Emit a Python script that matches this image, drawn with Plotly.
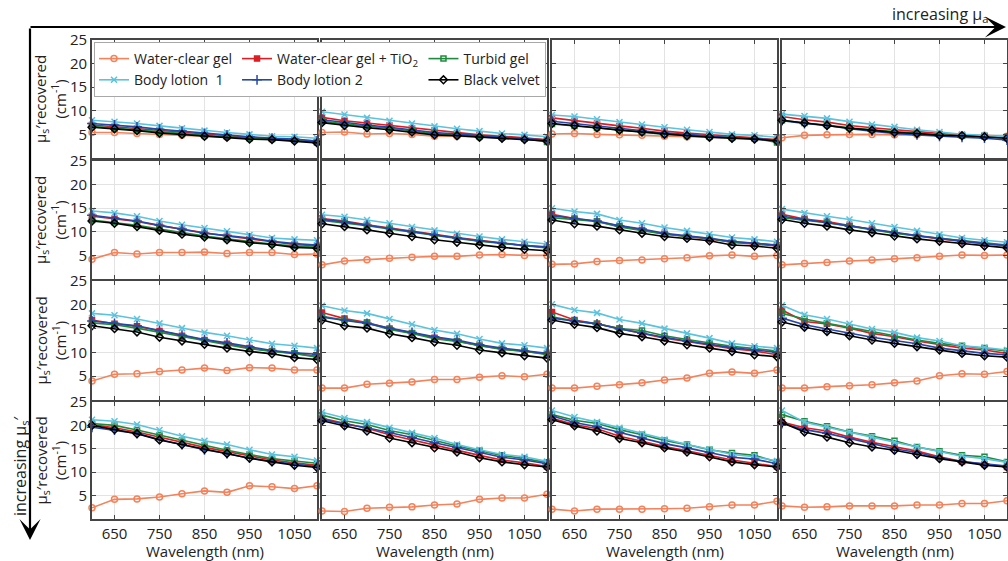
import plotly.graph_objects as go

# ---------------- data ----------------
wavelength_nm = [600, 650, 700, 750, 800, 850, 900, 950, 1000, 1050, 1100]
x_tick_vals = [650, 750, 850, 950, 1050]
y_tick_vals = [5, 10, 15, 20, 25]

series_names = ["Water-clear gel", "Water-clear gel + TiO<sub>2</sub>", "Turbid gel",
                "Body lotion  1", "Body lotion 2", "Black velvet"]

# each series: 16 panels in row-major order (rows: increasing mu_s', cols: increasing mu_a)
water_clear_gel = [
    [5.4, 5.4, 5.2, 5.0, 4.8, 4.6, 4.4, 4.2, 4.0, 3.9, 3.6],
    [5.4, 5.5, 5.1, 5.2, 5.0, 4.6, 4.6, 4.4, 4.3, 4.2, 3.9],
    [5.1, 5.2, 5.0, 4.9, 4.8, 4.6, 4.5, 4.4, 4.2, 4.1, 4.0],
    [4.3, 4.8, 4.9, 5.0, 5.0, 4.9, 4.9, 4.8, 4.8, 4.8, 4.6],
    [4.2, 5.6, 5.3, 5.6, 5.6, 5.7, 5.4, 5.6, 5.6, 5.2, 5.3],
    [3.0, 3.8, 4.1, 4.4, 4.6, 4.8, 4.8, 5.1, 5.2, 5.0, 5.0],
    [3.1, 3.2, 3.7, 3.9, 4.0, 4.3, 4.5, 4.9, 5.1, 4.8, 5.0],
    [3.0, 3.3, 3.5, 3.8, 4.0, 4.3, 4.5, 4.8, 5.1, 5.0, 5.1],
    [4.0, 5.4, 5.5, 6.0, 6.3, 6.7, 6.2, 6.8, 6.7, 6.3, 6.3],
    [2.5, 2.5, 3.3, 3.5, 3.8, 4.3, 4.3, 4.8, 5.1, 4.9, 5.4],
    [2.5, 2.5, 2.9, 3.2, 3.6, 4.2, 4.6, 5.6, 5.9, 5.6, 6.3],
    [2.5, 2.5, 2.8, 3.0, 3.2, 3.6, 4.0, 5.1, 5.5, 5.4, 6.0],
    [2.4, 4.2, 4.3, 4.7, 5.4, 6.0, 5.7, 7.1, 6.9, 6.5, 7.1],
    [1.7, 1.6, 2.3, 2.5, 2.6, 3.0, 3.2, 4.2, 4.5, 4.5, 5.3],
    [2.1, 1.7, 2.1, 2.1, 2.1, 2.2, 2.3, 2.6, 3.0, 3.0, 3.8],
    [2.8, 2.5, 2.6, 2.8, 2.8, 2.8, 3.0, 3.0, 3.3, 3.3, 3.9],
]
water_clear_gel_tio2 = [
    [7.0, 6.6, 6.2, 5.8, 5.4, 5.0, 4.7, 4.4, 4.1, 3.9, 3.5],
    [8.6, 7.9, 7.4, 6.9, 6.3, 5.8, 5.3, 4.9, 4.6, 4.3, 3.8],
    [8.5, 7.9, 7.3, 6.8, 6.3, 5.7, 5.3, 4.9, 4.6, 4.3, 3.7],
    [8.8, 8.1, 7.6, 6.9, 6.4, 6.0, 5.6, 5.1, 4.8, 4.6, 4.2],
    [13.3, 12.7, 12.2, 11.3, 10.5, 9.8, 9.1, 8.5, 7.8, 7.3, 7.0],
    [12.8, 12.3, 11.5, 10.8, 10.1, 9.4, 8.8, 8.2, 7.6, 7.1, 6.7],
    [13.7, 12.8, 12.2, 11.2, 10.4, 9.6, 9.0, 8.5, 7.8, 7.4, 7.0],
    [13.7, 12.7, 12.2, 11.3, 10.5, 9.8, 9.1, 8.5, 8.0, 7.5, 7.0],
    [16.8, 16.0, 15.5, 14.5, 13.5, 12.6, 11.8, 10.9, 10.3, 9.8, 9.2],
    [18.4, 17.1, 16.3, 15.0, 14.1, 13.1, 12.4, 11.4, 10.7, 10.2, 9.7],
    [18.5, 16.8, 16.0, 15.0, 14.0, 13.0, 12.3, 11.6, 10.8, 10.3, 9.5],
    [18.9, 16.5, 16.0, 15.1, 14.0, 13.3, 12.4, 11.6, 10.9, 10.5, 9.8],
    [20.2, 19.5, 18.6, 17.5, 16.4, 15.3, 14.4, 13.5, 12.6, 12.0, 11.5],
    [21.5, 20.4, 19.4, 18.0, 16.9, 15.7, 14.7, 13.6, 12.6, 12.0, 11.2],
    [21.5, 20.2, 19.3, 17.7, 16.6, 15.5, 14.6, 13.6, 12.6, 11.9, 11.2],
    [20.7, 19.5, 18.8, 17.5, 16.4, 15.4, 14.5, 13.3, 12.3, 11.7, 11.1],
]
turbid_gel = [
    [6.7, 6.3, 5.9, 5.5, 5.2, 4.8, 4.5, 4.2, 4.0, 3.8, 3.3],
    [7.8, 7.2, 6.7, 6.3, 5.8, 5.2, 4.9, 4.6, 4.4, 4.1, 3.4],
    [7.2, 6.8, 6.4, 6.0, 5.5, 5.0, 4.8, 4.5, 4.3, 4.2, 3.3],
    [8.0, 7.4, 7.0, 6.4, 6.0, 5.6, 5.3, 4.9, 4.7, 4.6, 4.5],
    [12.5, 12.0, 11.4, 10.6, 9.8, 9.1, 8.5, 7.9, 7.4, 7.0, 6.7],
    [12.4, 11.9, 11.3, 10.6, 9.9, 9.2, 8.6, 8.0, 7.5, 7.0, 6.6],
    [13.0, 12.6, 12.2, 11.0, 10.3, 9.5, 9.0, 8.6, 7.8, 7.6, 7.1],
    [13.0, 12.5, 11.9, 11.2, 10.4, 9.7, 9.1, 8.6, 8.1, 7.7, 7.2],
    [16.2, 15.8, 15.1, 14.2, 13.3, 12.4, 11.6, 10.8, 10.2, 9.8, 9.0],
    [17.6, 16.8, 16.2, 14.8, 14.0, 12.9, 12.3, 11.4, 10.6, 10.3, 9.5],
    [17.5, 16.6, 16.0, 15.0, 14.6, 13.5, 12.7, 12.0, 11.3, 10.8, 10.3],
    [18.2, 17.0, 16.1, 15.3, 14.4, 13.5, 12.6, 11.9, 11.4, 10.9, 10.3],
    [20.4, 20.0, 19.0, 17.9, 16.8, 15.7, 14.7, 13.8, 12.9, 12.4, 11.9],
    [22.2, 21.0, 20.2, 18.9, 18.0, 16.8, 15.6, 14.6, 13.6, 12.9, 12.1],
    [22.3, 21.1, 20.4, 19.1, 18.0, 16.8, 15.9, 14.8, 14.1, 13.6, 12.2],
    [22.3, 20.9, 19.8, 18.6, 17.7, 16.7, 15.4, 14.5, 13.6, 13.3, 12.2],
]
body_lotion_1 = [
    [8.0, 7.7, 7.3, 6.8, 6.3, 5.8, 5.4, 5.0, 4.6, 4.5, 4.2],
    [9.8, 9.2, 8.5, 7.9, 7.3, 6.7, 6.2, 5.7, 5.2, 4.9, 4.5],
    [9.1, 8.8, 8.2, 7.6, 7.1, 6.5, 6.0, 5.5, 5.0, 4.8, 4.4],
    [9.3, 8.9, 8.4, 7.7, 7.1, 6.6, 6.0, 5.5, 5.0, 4.8, 4.5],
    [14.4, 14.0, 13.3, 12.3, 11.5, 10.8, 10.1, 9.3, 8.7, 8.4, 8.2],
    [13.6, 13.2, 12.5, 11.8, 11.0, 10.3, 9.6, 9.0, 8.4, 7.9, 7.4],
    [15.0, 14.3, 13.8, 12.5, 11.8, 10.9, 10.2, 9.5, 8.8, 8.4, 7.9],
    [14.8, 14.0, 13.3, 12.6, 11.8, 11.0, 10.2, 9.4, 8.7, 8.2, 7.8],
    [18.2, 17.8, 17.0, 16.1, 15.1, 14.2, 13.5, 12.6, 11.8, 11.4, 10.9],
    [19.8, 18.8, 18.2, 17.0, 15.9, 14.7, 13.9, 12.8, 11.9, 11.5, 10.9],
    [20.1, 18.9, 18.3, 16.9, 16.1, 15.0, 14.0, 13.0, 11.9, 11.3, 10.9],
    [19.9, 17.9, 17.0, 16.0, 14.9, 14.2, 13.1, 12.4, 11.4, 11.0, 10.5],
    [21.2, 20.9, 20.2, 19.0, 17.7, 16.7, 15.9, 14.8, 13.8, 13.3, 12.5],
    [22.8, 21.6, 20.7, 19.5, 18.4, 17.3, 15.9, 14.8, 13.8, 13.3, 12.3],
    [23.2, 21.8, 20.7, 19.5, 18.2, 17.0, 15.9, 14.9, 13.8, 13.3, 12.4],
    [23.2, 20.7, 19.6, 18.6, 17.5, 16.4, 15.4, 14.3, 13.4, 12.9, 12.1],
]
body_lotion_2 = [
    [7.3, 7.0, 6.6, 6.1, 5.7, 5.2, 4.9, 4.5, 4.2, 4.0, 3.6],
    [8.1, 7.5, 7.0, 6.5, 6.0, 5.4, 5.1, 4.7, 4.4, 4.1, 3.8],
    [7.8, 7.3, 6.8, 6.3, 5.8, 5.3, 5.0, 4.6, 4.3, 4.1, 3.8],
    [7.9, 7.3, 6.9, 6.2, 5.7, 5.2, 4.9, 4.6, 4.4, 4.2, 3.8],
    [13.5, 12.9, 12.3, 11.4, 10.6, 9.7, 9.2, 8.7, 8.0, 7.5, 7.2],
    [12.6, 12.1, 11.4, 10.7, 10.0, 9.3, 8.7, 8.1, 7.6, 7.1, 6.8],
    [13.4, 12.8, 12.3, 11.3, 10.6, 9.7, 9.2, 8.6, 8.0, 7.6, 7.2],
    [13.3, 12.6, 12.0, 11.2, 10.5, 9.8, 9.2, 8.6, 8.0, 7.5, 7.1],
    [16.6, 16.1, 15.6, 14.6, 13.6, 12.7, 12.0, 11.2, 10.4, 9.9, 9.6],
    [17.4, 16.8, 16.1, 15.1, 14.2, 13.3, 12.6, 11.6, 10.9, 10.3, 9.8],
    [17.2, 16.6, 16.0, 14.9, 14.0, 13.2, 12.4, 11.7, 11.0, 10.5, 10.0],
    [17.2, 15.8, 14.9, 14.0, 13.2, 12.5, 11.8, 10.9, 10.3, 9.8, 9.5],
    [19.6, 19.0, 18.3, 17.0, 15.9, 14.8, 14.0, 13.0, 12.3, 11.7, 11.2],
    [21.3, 20.3, 19.5, 18.5, 17.4, 16.3, 15.3, 14.2, 13.2, 12.6, 11.8],
    [22.0, 20.6, 19.7, 18.5, 17.3, 16.1, 15.2, 14.2, 13.2, 12.8, 11.8],
    [20.4, 19.1, 18.3, 17.2, 16.1, 15.0, 14.2, 13.1, 12.3, 11.8, 11.3],
]
black_velvet = [
    [6.5, 6.2, 5.8, 5.3, 5.0, 4.6, 4.4, 4.0, 3.9, 3.6, 3.2],
    [7.5, 6.9, 6.4, 6.0, 5.5, 4.9, 4.7, 4.4, 4.2, 3.9, 3.6],
    [7.3, 6.9, 6.4, 5.9, 5.5, 5.0, 4.7, 4.4, 4.2, 4.0, 3.6],
    [8.0, 7.4, 6.9, 6.3, 5.9, 5.4, 5.2, 4.8, 4.7, 4.5, 4.2],
    [12.3, 11.8, 11.1, 10.3, 9.5, 8.9, 8.3, 7.7, 7.3, 6.7, 6.5],
    [11.7, 11.1, 10.4, 9.7, 9.0, 8.3, 7.8, 7.2, 6.7, 6.3, 6.0],
    [12.5, 11.7, 11.2, 10.4, 9.7, 9.0, 8.6, 8.1, 7.2, 7.0, 6.5],
    [12.6, 11.8, 11.2, 10.4, 9.8, 9.1, 8.5, 8.0, 7.5, 7.0, 6.6],
    [15.6, 15.0, 14.3, 13.2, 12.4, 11.7, 10.9, 10.2, 9.7, 8.9, 8.5],
    [16.8, 15.6, 15.1, 13.9, 13.1, 12.2, 11.5, 10.5, 9.9, 9.3, 8.8],
    [16.8, 15.9, 15.2, 14.0, 13.3, 12.4, 11.6, 10.9, 10.2, 9.5, 9.1],
    [16.4, 15.3, 14.4, 13.5, 12.6, 11.9, 11.2, 10.5, 9.8, 9.3, 9.0],
    [20.0, 19.1, 18.2, 16.9, 15.9, 14.9, 14.0, 13.0, 12.2, 11.5, 11.0],
    [21.0, 19.9, 18.8, 17.3, 16.3, 15.2, 14.3, 13.1, 12.2, 11.6, 11.1],
    [21.2, 19.9, 18.8, 17.2, 16.3, 15.2, 14.3, 13.3, 12.2, 11.6, 11.1],
    [20.6, 18.6, 17.5, 16.3, 15.4, 14.7, 13.8, 12.9, 12.2, 11.5, 11.1],
]

# ---------------- styles ----------------
all_series = [water_clear_gel, water_clear_gel_tio2, turbid_gel,
              body_lotion_1, body_lotion_2, black_velvet]
colors = ["#F4825A", "#DC1E24", "#1F8A3B", "#5BC3DD", "#2747A6", "#000000"]
symbols = ["circle-open", "square", "square-open", "x-thin-open", "cross-thin-open", "diamond-open"]
msizes = [6, 5, 5, 6, 7, 6]
groups = ["a", "b", "c", "a", "b", "c"]

FONT = "Open Sans"
TXT = "#222"
W, H = 1008, 561
col_px = [(92, 317), (322, 547), (552, 777), (782, 1007)]
row_px = [(40, 158), (161, 279), (281, 400), (402, 519)]
frame = "#454545"

fig = go.Figure()
layout = {}
for r in range(4):
    for c in range(4):
        k = r * 4 + c
        n = k + 1
        xa = "x" if n == 1 else f"x{n}"
        ya = "y" if n == 1 else f"y{n}"
        for s, data in enumerate(all_series):
            fig.add_trace(go.Scatter(
                x=wavelength_nm, y=data[k], mode="lines+markers",
                name=series_names[s], legendgroup=groups[s],
                showlegend=(k == 0), xaxis=xa, yaxis=ya, cliponaxis=False,
                line=dict(color=colors[s], width=1.6),
                marker=dict(symbol=symbols[s], size=msizes[s], color=colors[s],
                            line=dict(color=colors[s], width=1.5)),
            ))
        x0, x1 = col_px[c]
        y0, y1 = row_px[r]
        axis_common = dict(showline=True, mirror="ticks", linecolor=frame, linewidth=1.6,
                           ticks="inside", ticklen=4, tickcolor=frame, tickwidth=1,
                           showgrid=True, gridcolor="#E3E3E3", gridwidth=1, zeroline=False,
                           automargin=False,
                           tickfont=dict(family=FONT, size=15, color=TXT))
        layout[f"xaxis{n}"] = dict(domain=[x0 / W, x1 / W], anchor=ya, range=[600, 1100],
                                   tickvals=x_tick_vals, showticklabels=(r == 3), **axis_common)
        layout[f"yaxis{n}"] = dict(domain=[1 - y1 / H, 1 - y0 / H], anchor=xa, range=[0, 25],
                                   tickvals=y_tick_vals, showticklabels=(c == 0), **axis_common)

annotations = []
for r in range(4):
    y0, y1 = row_px[r]
    annotations.append(dict(
        xref="paper", yref="paper", x=50 / W, y=1 - (y0 + y1) / 2 / H,
        text="μ<sub>s</sub>′recovered<br>(cm<sup>-1</sup>)", textangle=-90, showarrow=False,
        font=dict(family=FONT, size=15, color=TXT), xanchor="center", yanchor="middle"))
for c in range(4):
    x0, x1 = col_px[c]
    annotations.append(dict(
        xref="paper", yref="paper", x=(x0 + x1) / 2 / W, y=1 - 551 / H,
        text="Wavelength (nm)", showarrow=False, xanchor="center", yanchor="middle",
        font=dict(family=FONT, size=15, color=TXT)))

# arrows
annotations.append(dict(xref="paper", yref="paper", x=1006 / W, y=1 - 27 / H,
                        ax=-977, ay=0, axref="pixel", ayref="pixel", text="",
                        showarrow=True, arrowhead=3, arrowsize=1.6, arrowwidth=2.2,
                        arrowcolor="black"))
annotations.append(dict(xref="paper", yref="paper", x=30 / W, y=1 - 540 / H,
                        ax=0, ay=-513, axref="pixel", ayref="pixel", text="",
                        showarrow=True, arrowhead=3, arrowsize=1.6, arrowwidth=2.2,
                        arrowcolor="black"))
annotations.append(dict(xref="paper", yref="paper", x=990 / W, y=1 - 15 / H,
                        text="increasing μ<sub>a</sub>", showarrow=False,
                        xanchor="right", yanchor="middle",
                        font=dict(family=FONT, size=16, color=TXT)))
annotations.append(dict(xref="paper", yref="paper", x=20 / W, y=1 - 466 / H,
                        text="increasing μ<sub>s</sub>′", showarrow=False, textangle=-90,
                        xanchor="center", yanchor="middle",
                        font=dict(family=FONT, size=16, color=TXT)))

fig.update_layout(
    width=W, height=H, margin=dict(l=0, r=0, t=0, b=0, autoexpand=False),
    paper_bgcolor="white", plot_bgcolor="white",
    font=dict(family=FONT, size=15, color=TXT),
    annotations=annotations,
    legend=dict(orientation="h", traceorder="grouped", x=94 / W, y=1 - 42 / H,
                xanchor="left", yanchor="top", bgcolor="white", bordercolor="#A8A8A8",
                borderwidth=1, font=dict(family=FONT, size=14, color=TXT),
                itemwidth=30, tracegroupgap=0),
    **layout,
)

fig.write_html("out.html")
